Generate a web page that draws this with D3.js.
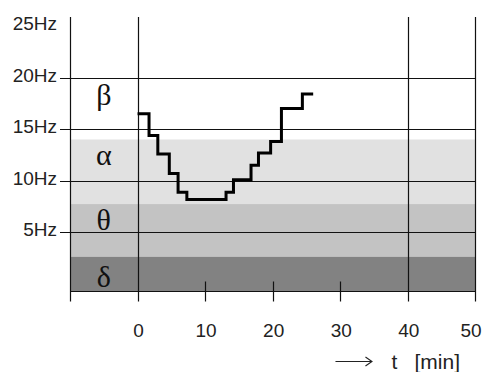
<!DOCTYPE html>
<html>
<head>
<meta charset="utf-8">
<script src="https://cdn.jsdelivr.net/npm/d3@7"></script>
<style>
  body { margin: 0; background: #fff; }
  .tick-label { font-family: "Liberation Sans", Arial, sans-serif; font-size: 19px; fill: #222; }
  .title { font-family: "Liberation Sans", Arial, sans-serif; font-size: 21px; fill: #222; }
  .band-label { font-family: "Liberation Serif", "Times New Roman", serif; font-size: 30px; fill: #111; }
</style>
</head>
<body>
<svg id="chart" width="485" height="372"></svg>
<script>
// step times [min] and frequency [Hz] of the curve, last time closes the final step
var stepTimes = [0, 1.7, 3, 4.7, 6, 7.3, 13.1, 14.2, 16.8, 17.9, 19.7, 21.3, 24.4, 26];
var stepFreqs = [16.5, 14.4, 12.6, 10.7, 8.9, 8.2, 8.9, 10.1, 11.5, 12.7, 13.8, 17.0, 18.4, 18.4];

// frequency bands
var bandNames = ["\u03b2", "\u03b1", "\u03b8", "\u03b4"];
var bandLow = [14.0, 7.75, 2.65, -0.7];
var bandHigh = [25.85, 14.0, 7.75, 2.65];
var bandColors = ["#ffffff", "#e1e1e1", "#c3c3c3", "#828282"];
var bandLabelHz = [17.3, 11.5, 5.2, -0.25];

// axes
var yTicks = [5, 10, 15, 20];
var yLabels = [5, 10, 15, 20, 25];
var xTicks = [-10, 0, 10, 20, 30, 40, 50];
var xLabels = [0, 10, 20, 30, 40, 50];
var xLongLines = [-10, 0, 40, 50];
var xTitle = ["t", "[min]"];

var x = d3.scaleLinear().domain([-10, 50]).range([70, 475.3]);
var y = d3.scaleLinear().domain([0, 25]).range([284.1, 25.9]);
var yBottom = -0.7, yTop = 25.85;

var svg = d3.select("#chart");

// bands
svg.selectAll(".band")
    .data(bandNames)
  .enter().append("rect")
    .attr("class", "band")
    .attr("x", x(-10))
    .attr("width", x(50) - x(-10))
    .attr("y", function(d, i) { return y(bandHigh[i]); })
    .attr("height", function(d, i) { return y(bandLow[i]) - y(bandHigh[i]); })
    .attr("fill", function(d, i) { return bandColors[i]; });

// horizontal grid lines with left ticks
svg.selectAll(".hgrid")
    .data(yTicks)
  .enter().append("line")
    .attr("class", "hgrid")
    .attr("x1", x(-10) - 10)
    .attr("x2", x(50))
    .attr("y1", function(d) { return Math.round(y(d)) + 0.5; })
    .attr("y2", function(d) { return Math.round(y(d)) + 0.5; })
    .attr("stroke", "#111")
    .attr("stroke-width", 1.2);

// bottom axis line
var yb = Math.round(y(yBottom)) + 0.5;
svg.append("line")
    .attr("x1", x(-10)).attr("x2", x(50))
    .attr("y1", yb).attr("y2", yb)
    .attr("stroke", "#111").attr("stroke-width", 1.2);

// vertical lines: long ones span full height, others are ticks
svg.selectAll(".vline")
    .data(xTicks)
  .enter().append("line")
    .attr("class", "vline")
    .attr("x1", function(d) { return Math.round(x(d)) + 0.5; })
    .attr("x2", function(d) { return Math.round(x(d)) + 0.5; })
    .attr("y1", function(d) { return xLongLines.indexOf(d) >= 0 ? y(yTop) : yb - 10; })
    .attr("y2", yb + 10)
    .attr("stroke", "#111")
    .attr("stroke-width", 1.2);

// step curve
var line = d3.line()
    .x(function(d, i) { return x(stepTimes[i]); })
    .y(function(d) { return y(d); })
    .curve(d3.curveStepAfter);

svg.append("path")
    .datum(stepFreqs)
    .attr("d", line)
    .attr("fill", "none")
    .attr("stroke", "#000")
    .attr("stroke-width", 3)
    .attr("stroke-linejoin", "miter");

// band labels
svg.selectAll(".band-label")
    .data(bandNames)
  .enter().append("text")
    .attr("class", "band-label")
    .attr("x", x(-5))
    .attr("y", function(d, i) { return y(bandLabelHz[i]); })
    .attr("text-anchor", "middle")
    .text(function(d) { return d; });

// y labels
svg.selectAll(".ylab")
    .data(yLabels)
  .enter().append("text")
    .attr("class", "tick-label")
    .attr("x", x(-10) - 13)
    .attr("y", function(d) { return y(d) + 4; })
    .attr("text-anchor", "end")
    .text(function(d) { return d + "Hz"; });

// x labels (last one kept inside the picture)
svg.selectAll(".xlab")
    .data(xLabels)
  .enter().append("text")
    .attr("class", "tick-label")
    .attr("x", function(d) { return Math.min(x(d) + 1, 471); })
    .attr("y", 337)
    .attr("text-anchor", "middle")
    .text(function(d) { return d; });

// x title with arrow
var tx = x(29.3), ty = 369;
var ah = svg.append("g").attr("transform", "translate(" + tx + "," + (ty - 7.5) + ")");
ah.append("path")
    .attr("d", "M0,0H36.5M30,-4.5L36.5,0L30,4.5")
    .attr("fill", "none")
    .attr("stroke", "#222")
    .attr("stroke-width", 1.1);
var title = svg.append("text")
    .attr("class", "title")
    .attr("y", ty);
title.selectAll("tspan")
    .data(xTitle)
  .enter().append("tspan")
    .attr("x", function(d, i) { return tx + 56 + i * 23; })
    .text(function(d) { return d; });
</script>
</body>
</html>
